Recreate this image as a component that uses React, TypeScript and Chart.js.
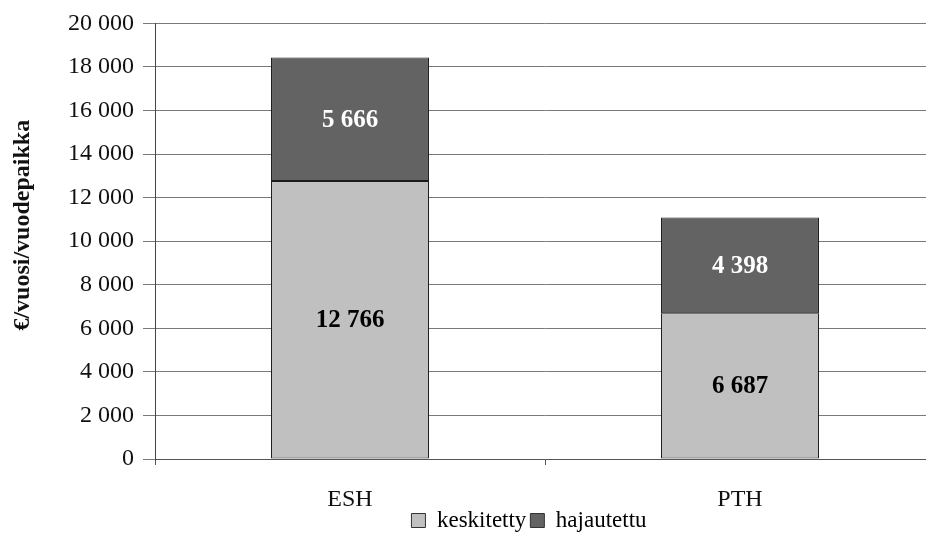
import React, { useEffect, useRef } from "react";
import { Chart, registerables } from "chart.js";

Chart.register(...registerables);

const categories = ["ESH", "PTH"];
const keskitetty = [12766, 6687];
const hajautettu = [5666, 4398];
const seriesNames = ["keskitetty", "hajautettu"];
const yTitle = "€/vuosi/vuodepaikka";

const fmt = (v: number) => {
  const s = Math.round(v).toString();
  return s.replace(/\B(?=(\d{3})+(?!\d))/g, " ");
};

const SERIF = "'Liberation Serif', 'Times New Roman', serif";

const labelPlugin = {
  id: "segLabels",
  afterDatasetsDraw(chart: any) {
    const ctx = chart.ctx;
    ctx.save();
    ctx.font = `bold 25px ${SERIF}`;
    ctx.textAlign = "center";
    ctx.textBaseline = "middle";
    chart.data.datasets.forEach((ds: any, di: number) => {
      const meta = chart.getDatasetMeta(di);
      meta.data.forEach((bar: any, i: number) => {
        const v = ds.data[i];
        const yc = (bar.y + bar.base) / 2;
        ctx.fillStyle = di === 0 ? "#000" : "#fff";
        ctx.fillText(fmt(v), bar.x, yc + 1);
      });
    });
    ctx.restore();
  },
};

const titlePlugin = {
  id: "yTitle",
  afterDraw(chart: any) {
    const ctx = chart.ctx;
    const area = chart.chartArea;
    ctx.save();
    ctx.font = `bold 24px ${SERIF}`;
    ctx.fillStyle = "#111";
    ctx.textAlign = "center";
    ctx.textBaseline = "middle";
    ctx.translate(23, (area.top + area.bottom) / 2 - 16);
    ctx.rotate(-Math.PI / 2);
    ctx.fillText(yTitle, 0, 0);
    ctx.restore();
  },
};

const layoutTweak = {
  id: "layoutTweak",
  afterLayout(chart: any) {
    const lg = chart.legend;
    if (lg) {
      lg.left = 123;
      lg.top += 6;
      lg.bottom += 6;
    }
    const xs = chart.scales.x;
    if (xs) xs.bottom = 534;
  },
};

export default function App() {
  const ref = useRef<HTMLCanvasElement>(null);
  useEffect(() => {
    if (!ref.current) return;
    const chart = new Chart(ref.current, {
      type: "bar",
      data: {
        labels: categories,
        datasets: [
          {
            label: seriesNames[0],
            data: keskitetty,
            backgroundColor: "#c0c0c0",
            borderColor: "#1a1a1a",
            borderWidth: 1,
            borderSkipped: false,
            categoryPercentage: 1,
            barPercentage: 0.405,
          },
          {
            label: seriesNames[1],
            data: hajautettu,
            backgroundColor: "#636363",
            borderColor: "#1a1a1a",
            borderWidth: 1,
            borderSkipped: false,
            categoryPercentage: 1,
            barPercentage: 0.405,
          },
        ],
      },
      options: {
        responsive: false,
        animation: false,
        layout: { padding: { top: 12, right: 89, left: 0, bottom: 0 } },
        plugins: {
          legend: {
            position: "bottom",
            labels: {
              font: { family: SERIF, size: 23 },
              color: "#111",
              boxWidth: 14,
              boxHeight: 14,
              padding: 4,
              generateLabels: (chart: any) =>
                chart.data.datasets.map((ds: any, i: number) => ({
                  text: ds.label,
                  fillStyle: ds.backgroundColor,
                  strokeStyle: "#333",
                  lineWidth: 1,
                  datasetIndex: i,
                  hidden: false,
                })),
            },
          },
          tooltip: { enabled: false },
        },
        scales: {
          x: {
            stacked: true,
            afterFit: (s: any) => {
              s.height = 40;
            },
            grid: {
              display: true,
              drawOnChartArea: false,
              drawTicks: true,
              tickLength: 6,
              offset: true,
              color: "#555",
            },
            border: { display: true, color: "#555", width: 1 },
            ticks: {
              font: { family: SERIF, size: 24 },
              color: "#111",
              padding: 20,
            },
          },
          y: {
            stacked: true,
            min: 0,
            max: 20000,
            afterFit: (s: any) => {
              s.width = 155;
            },
            grid: {
              color: "#7a7a7a",
              lineWidth: 1,
              tickLength: 12,
            },
            border: { display: true, color: "#444", width: 1 },
            ticks: {
              stepSize: 2000,
              font: { family: SERIF, size: 24 },
              color: "#111",
              padding: 9,
              callback: (v: any) => fmt(Number(v)),
            },
            title: { display: false },
          },
        },
      },
      plugins: [labelPlugin, titlePlugin, layoutTweak],
    });
    return () => chart.destroy();
  }, []);
  return (
    <div
      style={{
        position: "fixed",
        left: 0,
        top: 0,
        width: 926,
        height: 536,
        overflow: "hidden",
        background: "#fff",
      }}
    >
      <canvas ref={ref} width={1024} height={536} />
    </div>
  );
}
